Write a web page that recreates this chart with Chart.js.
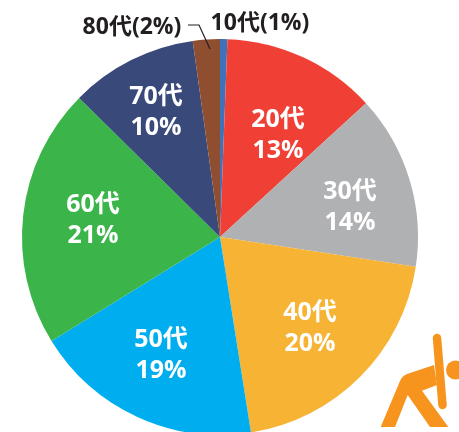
<!DOCTYPE html>
<html>
<head>
<meta charset="utf-8">
<style>
  html, body { margin: 0; padding: 0; background: #fff; overflow: hidden; }
  #wrap { width: 459px; height: 432px; overflow: hidden; }
</style>
<script src="https://cdn.jsdelivr.net/npm/chart.js@4"></script>
</head>
<body>
<div id="wrap"><canvas id="pie" width="459" height="480"></canvas></div>
<script>
// 年代別の割合 (printed labels kept apart)
const categories = ["10代", "20代", "30代", "40代", "50代", "60代", "70代", "80代"];
const sliceValues = [0.6, 12.6, 14.2, 20.1, 18.7, 21.2, 10.4, 2.2];
const printedPercent = ["1%", "13%", "14%", "20%", "19%", "21%", "10%", "2%"];
const sliceColors = ["#3f72b8", "#f04036", "#b0b1b3", "#f6b334", "#00aeef", "#3bb54a", "#39497a", "#8e4e2f"];

// label anchors, measured from the pie centre
const insideOffsets = { 1: [58, -102], 2: [130, -30], 3: [90, 91], 4: [-59, 118], 5: [-127, -17], 6: [-64, -125] };
const outsideOffsets = { 0: [40, -214], 7: [-88, -210] };
const leaderOffsets = [[-32, -212], [-21, -212], [-10, -188]];

const FONT = '"Open Sans", "Noto Sans CJK JP", sans-serif';

// 人物アイコン
const bodyPath = new Path2D("M434 365 L407 374 Q402 376 400 381 L380.7 427 L395 427 L407.7 395 L430 427 L448.3 427 L422 390.7 L437 385 Z");

const piePlugin = {
  id: "pieLabels",
  afterDraw(chart) {
    const ctx = chart.ctx;
    const arcs = chart.getDatasetMeta(0).data;
    const cx = arcs[0].x, cy = arcs[0].y;
    ctx.save();
    ctx.textAlign = "center";
    ctx.textBaseline = "middle";

    // inside labels
    ctx.font = "bold 25px " + FONT;
    ctx.fillStyle = "#fff";
    Object.keys(insideOffsets).forEach((i) => {
      const [dx, dy] = insideOffsets[i];
      ctx.fillText(categories[i], cx + dx, cy + dy - 15);
      ctx.fillText(printedPercent[i], cx + dx, cy + dy + 16);
    });

    // outside labels
    ctx.font = "bold 23px " + FONT;
    ctx.fillStyle = "#231f20";
    Object.keys(outsideOffsets).forEach((i) => {
      const [dx, dy] = outsideOffsets[i];
      ctx.fillText(categories[i] + "(" + printedPercent[i] + ")", cx + dx, cy + dy);
    });

    // 80代 leader line
    ctx.strokeStyle = "#231f20";
    ctx.lineWidth = 1.2;
    ctx.beginPath();
    leaderOffsets.forEach(([dx, dy], k) => {
      if (k === 0) ctx.moveTo(cx + dx, cy + dy);
      else ctx.lineTo(cx + dx, cy + dy);
    });
    ctx.stroke();

    // icon
    ctx.fillStyle = "#f7941d";
    ctx.fill(bodyPath);
    ctx.beginPath();
    ctx.arc(455.5, 370, 9.5, 0, Math.PI * 2);
    ctx.fill();
    ctx.strokeStyle = "#f7941d";
    ctx.lineWidth = 8.5;
    ctx.lineCap = "round";
    ctx.beginPath();
    ctx.moveTo(437, 338);
    ctx.lineTo(442.5, 405);
    ctx.stroke();
    ctx.restore();
  },
};

new Chart(document.getElementById("pie").getContext("2d"), {
  type: "pie",
  data: {
    labels: categories,
    datasets: [
      {
        data: sliceValues,
        backgroundColor: sliceColors,
        borderWidth: 0,
      },
    ],
  },
  options: {
    responsive: false,
    animation: false,
    layout: { padding: { top: 39, left: 22, right: 41, bottom: 45 } },
    plugins: {
      legend: { display: false },
      tooltip: { enabled: false },
    },
  },
  plugins: [piePlugin],
});
</script>
</body>
</html>
